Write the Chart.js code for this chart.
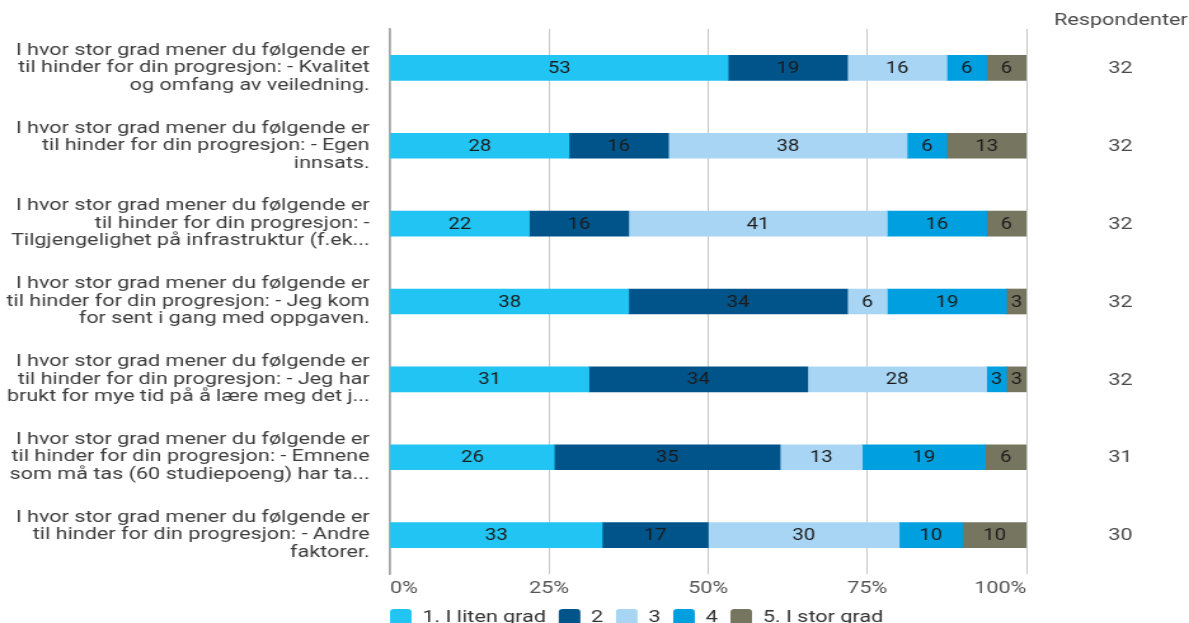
<!DOCTYPE html>
<html>
<head>
<meta charset="utf-8">
<script src="https://cdn.jsdelivr.net/npm/chart.js@4"></script>
<style>
  html, body { margin: 0; padding: 0; background: #fff; }
  #frame { width: 1189px; height: 623px; overflow: hidden; }
  /* the reference is rendered narrow and stretched sideways */
  #stretch { width: 936px; height: 636px; transform: scaleX(1.2703); transform-origin: 0 0; }
</style>
</head>
<body>
<div id="frame"><div id="stretch"><canvas id="chart"></canvas></div></div>
<script>
const questions = [
  ['I hvor stor grad mener du følgende er', 'til hinder for din progresjon: - Kvalitet', 'og omfang av veiledning.'],
  ['I hvor stor grad mener du følgende er', 'til hinder for din progresjon: - Egen', 'innsats.'],
  ['I hvor stor grad mener du følgende er', 'til hinder for din progresjon: -', 'Tilgjengelighet på infrastruktur (f.ek...'],
  ['I hvor stor grad mener du følgende er', 'til hinder for din progresjon: - Jeg kom', 'for sent i gang med oppgaven.'],
  ['I hvor stor grad mener du følgende er', 'til hinder for din progresjon: - Jeg har', 'brukt for mye tid på å lære meg det j...'],
  ['I hvor stor grad mener du følgende er', 'til hinder for din progresjon: - Emnene', 'som må tas (60 studiepoeng) har ta...'],
  ['I hvor stor grad mener du følgende er', 'til hinder for din progresjon: - Andre', 'faktorer.']
];
const seriesNames = ['1. I liten grad', '2', '3', '4', '5. I stor grad'];
const colors = ['#21c4f2', '#00548a', '#a8d5f4', '#009fe0', '#767560'];

// answers per question (count of respondents)
const grad1 = [17, 9, 7, 12, 10, 8, 10];
const grad2 = [6, 5, 5, 11, 11, 11, 5];
const grad3 = [5, 12, 13, 2, 9, 4, 9];
const grad4 = [2, 2, 5, 6, 1, 6, 3];
const grad5 = [2, 4, 2, 1, 1, 2, 3];
const respondents = [32, 32, 32, 32, 32, 31, 30];
const xTicks = [0, 25, 50, 75, 100];

const toPct = counts => counts.map((c, i) => c / respondents[i] * 100);

Chart.defaults.font.family = 'Roboto';
Chart.defaults.font.size = 17;

const barLabels = {
  id: 'barLabels',
  afterDatasetsDraw(chart) {
    const ctx = chart.ctx;
    ctx.save();
    ctx.font = '16px Roboto';
    ctx.fillStyle = '#1c1c1c';
    ctx.textAlign = 'center';
    ctx.textBaseline = 'middle';
    chart.data.datasets.forEach((ds, di) => {
      chart.getDatasetMeta(di).data.forEach((bar, i) => {
        const v = Math.round(ds.data[i]);
        if (!v) return;
        ctx.fillText(v, (bar.x + bar.base) / 2, bar.y + 1);
      });
    });
    ctx.restore();
  }
};

const respondentColumn = {
  id: 'respondentColumn',
  afterDraw(chart) {
    const ctx = chart.ctx;
    const y = chart.scales.y;
    ctx.save();
    ctx.font = '17px Roboto';
    ctx.fillStyle = '#4a4a4a';
    ctx.textBaseline = 'middle';
    ctx.textAlign = 'right';
    ctx.fillText('Respondenter', chart.width - 1, 21);
    ctx.textAlign = 'center';
    respondents.forEach((n, i) => {
      ctx.fillText(n, chart.width - 54, y.getPixelForValue(i) + 1);
    });
    ctx.restore();
  }
};

// legend starts under the plot, not at the canvas edge
const legendAlign = {
  id: 'legendAlign',
  beforeDraw(chart) {
    chart.legend.left = chart.chartArea.left - 10;
  }
};

const series = [grad1, grad2, grad3, grad4, grad5];

new Chart(document.getElementById('chart'), {
  type: 'bar',
  data: {
    labels: questions,
    datasets: series.map((s, i) => ({
      label: seriesNames[i],
      data: toPct(s),
      backgroundColor: colors[i],
      borderWidth: 0,
      barThickness: 25
    }))
  },
  options: {
    indexAxis: 'y',
    responsive: true,
    maintainAspectRatio: false,
    animation: false,
    layout: { padding: { top: 29, right: 128, left: 0, bottom: 0 } },
    scales: {
      x: {
        stacked: true,
        min: 0,
        max: 100,
        afterBuildTicks: scale => { scale.ticks = xTicks.map(v => ({ value: v })); },
        afterFit: scale => { scale.height = 25; },
        grid: { color: '#c6c6c6', lineWidth: 1, drawTicks: false },
        border: { display: false },
        ticks: {
          align: 'inner',
          padding: 5,
          color: '#555',
          callback: v => v + '%'
        }
      },
      y: {
        stacked: true,
        afterFit: scale => {
          scale.width = 307;
          scale.paddingTop = 0;
          scale.paddingBottom = 0;
        },
        grid: { display: false, drawTicks: false },
        border: { display: true, color: '#a8a8a8', width: 1.6 },
        ticks: {
          autoSkip: false,
          padding: 16,
          color: '#3d3d3d',
          font: { size: 17, lineHeight: 1.03 }
        }
      }
    },
    plugins: {
      legend: {
        position: 'bottom',
        align: 'start',
        labels: {
          boxWidth: 17,
          boxHeight: 17,
          padding: 10,
          useBorderRadius: true,
          borderRadius: 3,
          color: '#333'
        }
      },
      tooltip: { enabled: false }
    }
  },
  plugins: [barLabels, respondentColumn, legendAlign]
});
</script>
</body>
</html>
